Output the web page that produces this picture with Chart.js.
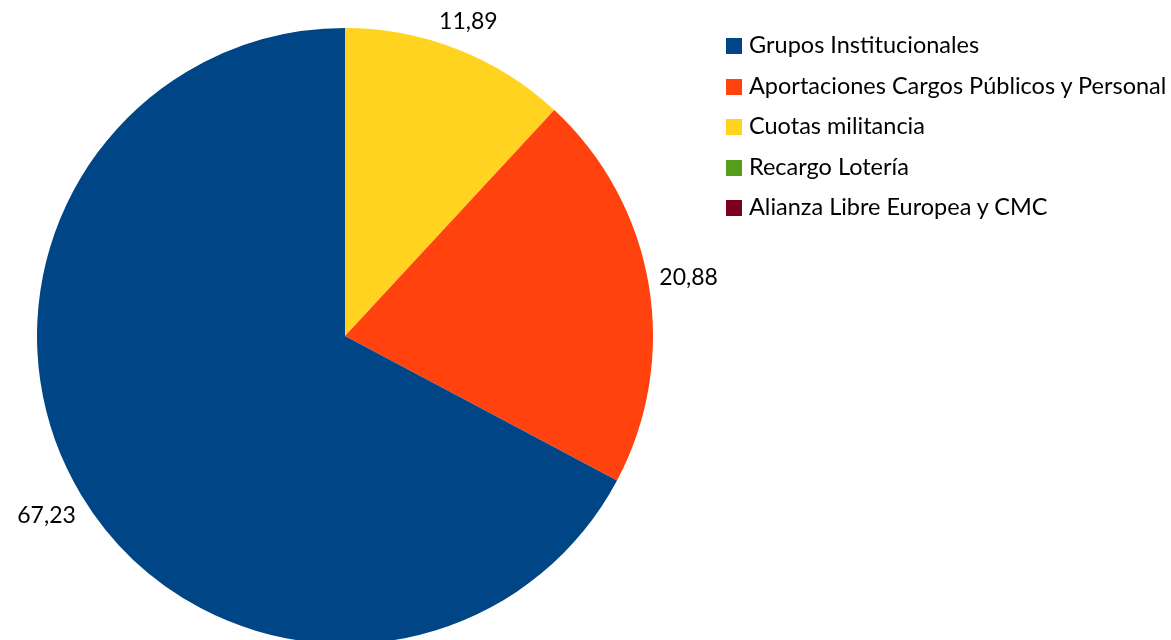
<!DOCTYPE html>
<html>
<head>
<meta charset="utf-8">
<script src="https://cdn.jsdelivr.net/npm/chart.js@4/dist/chart.umd.min.js"></script>
<style>
  html, body { margin: 0; padding: 0; background: #fff; overflow: hidden; width: 1171px; height: 640px; }
  #wrap { position: relative; width: 1171px; height: 640px; overflow: hidden; }
  canvas { position: absolute; left: 0; top: 0; }
  #legend { position: absolute; left: 726px; top: 37px; font-family: Lato, sans-serif; font-size: 23.5px; color: #000; }
  .item { height: 40.5px; position: relative; white-space: nowrap; }
  .box { position: absolute; left: 0; top: 1px; width: 16px; height: 16px; }
  .txt { position: absolute; left: 23px; top: -8px; line-height: 30px; }
</style>
</head>
<body>
<div id="wrap">
  <canvas id="pie" width="1171" height="672" style="width:1171px;height:672px"></canvas>
  <div id="legend"></div>
</div>
<script>
// legend order
const labels = ['Grupos Institucionales', 'Aportaciones Cargos Públicos y Personal', 'Cuotas militancia', 'Recargo Lotería', 'Alianza Libre Europea y CMC'];
const values = [67.23, 20.88, 11.89, 0, 0];
const colors = ['#004586', '#ff420e', '#ffd320', '#579d1c', '#7e0021'];

// the original goes counter-clockwise from the top, chart.js goes clockwise,
// so the dataset is fed reversed
const revLabels = labels.slice().reverse();
const revValues = values.slice().reverse();
const revColors = colors.slice().reverse();

const legend = document.getElementById('legend');
labels.forEach((name, i) => {
  const row = document.createElement('div');
  row.className = 'item';
  row.innerHTML = `<span class="box" style="background:${colors[i]}"></span><span class="txt">${name}</span>`;
  legend.appendChild(row);
});

const outsideLabels = {
  id: 'outsideLabels',
  afterDatasetsDraw(chart) {
    const { ctx } = chart;
    const meta = chart.getDatasetMeta(0);
    ctx.save();
    ctx.font = '23px Lato, sans-serif';
    ctx.fillStyle = '#000';
    ctx.textAlign = 'center';
    ctx.textBaseline = 'middle';
    meta.data.forEach((arc, i) => {
      const v = revValues[i];
      if (!v) return;
      const a = (arc.startAngle + arc.endAngle) / 2;
      const text = v.toFixed(2).replace('.', ',');
      const w = ctx.measureText(text).width;
      const h = 20;
      const d = arc.outerRadius + 10 + Math.abs(Math.cos(a)) * w / 2 + Math.abs(Math.sin(a)) * h / 2;
      ctx.fillText(text, arc.x + Math.cos(a) * d, arc.y + Math.sin(a) * d);
    });
    ctx.restore();
  },
};

new Chart(document.getElementById('pie'), {
  type: 'pie',
  data: {
    labels: revLabels,
    datasets: [{
      data: revValues,
      backgroundColor: revColors,
      borderWidth: 0,
    }],
  },
  options: {
    responsive: false,
    animation: false,
    layout: {
      padding: { left: 37, right: 518, top: 28, bottom: 28 },
    },
    plugins: {
      legend: { display: false },
      tooltip: { enabled: false },
    },
  },
  plugins: [outsideLabels],
});
</script>
</body>
</html>
